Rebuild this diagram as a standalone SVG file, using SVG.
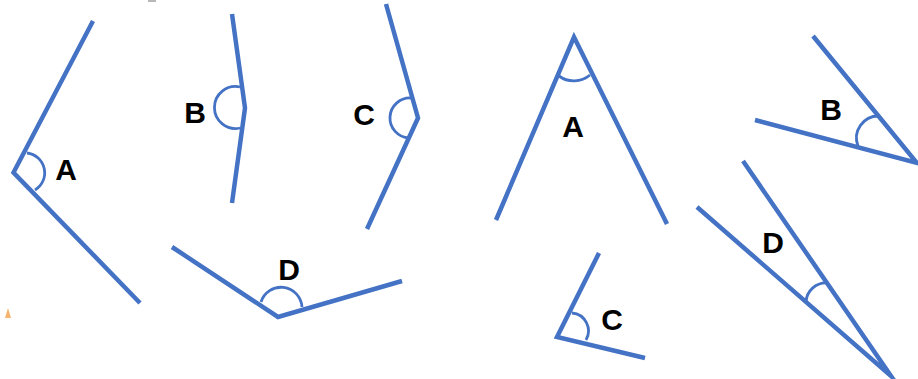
<svg xmlns="http://www.w3.org/2000/svg" width="918" height="379" viewBox="0 0 918 379">
<style>
.ray{fill:none;stroke:#4472C4;stroke-width:4.5;stroke-linejoin:miter;stroke-miterlimit:10;stroke-linecap:butt}
.arc{fill:none;stroke:#4472C4;stroke-width:2.8}
.lbl{font-family:"Liberation Sans",Arial,sans-serif;font-weight:bold;font-size:30px;fill:#000;text-anchor:middle}
</style>
<rect width="918" height="379" fill="#fff"/>
<g id="left-A">
<polyline class="ray" points="93,21 13.5,172.5 140,303"/>
<path class="arc" d="M27,153 A20,20 0 0 1 35,190"/>
<text class="lbl" x="66" y="180">A</text>
</g>
<g id="left-B">
<polyline class="ray" points="232,14 245,108 232,203"/>
<path class="arc" d="M240,87 A21,21 0 1 0 240,128"/>
<text class="lbl" x="195" y="123">B</text>
</g>
<g id="left-C">
<polyline class="ray" points="386,4 418,118 367,229"/>
<path class="arc" d="M411,98 A20,20 0 1 0 409,138"/>
<text class="lbl" x="364" y="125">C</text>
</g>
<g id="left-D">
<polyline class="ray" points="172,247 278,317 402,281"/>
<path class="arc" d="M261,302 A21,21 0 0 1 302,307"/>
<text class="lbl" x="289" y="280">D</text>
</g>
<g id="right-A">
<polyline class="ray" points="496,220 574,37 667,224"/>
<path class="arc" d="M559,76 A25,25 0 0 0 590,75"/>
<text class="lbl" x="573" y="137">A</text>
</g>
<g id="right-B">
<polyline class="ray" points="813,36 917,163 755,120"/>
<path class="arc" d="M879,116 A22,22 0 0 0 858,146"/>
<text class="lbl" x="831" y="120">B</text>
</g>
<g id="right-C">
<polyline class="ray" points="599,253 557,337 645,358"/>
<path class="arc" d="M572,313 A18,18 0 0 1 586,340"/>
<text class="lbl" x="612" y="330">C</text>
</g>
<g id="right-D">
<polyline class="ray" points="743,161 891,376 697,207"/>
<path class="arc" d="M806,302 A20,20 0 0 1 827,283"/>
<text class="lbl" x="773" y="253">D</text>
</g>
<path d="M5,318 L8,308 L11,318 Z" fill="#F5A04A" opacity="0.8"/>
<rect x="148" y="0" width="8" height="2" fill="#888" opacity="0.6"/>
</svg>
